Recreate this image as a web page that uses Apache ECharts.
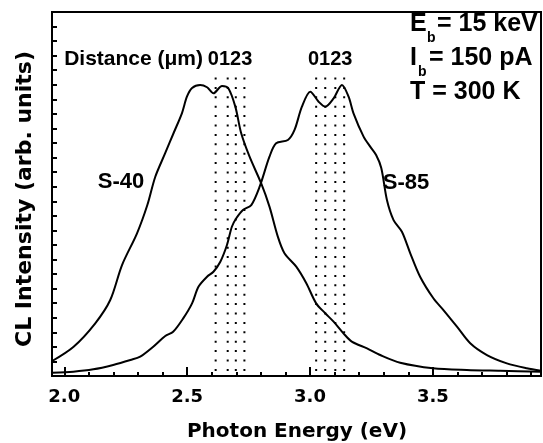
<!DOCTYPE html>
<html>
<head>
<meta charset="utf-8">
<script src="https://cdn.jsdelivr.net/npm/echarts@6/dist/echarts.min.js"></script>
<style>
  html, body { margin: 0; padding: 0; background: #fff; }
  #main { width: 543px; height: 443px; }
</style>
</head>
<body>
<div id="main"></div>
<script>
// CL spectra (x in eV, y in arb. units)
const energyS40 = [1.951, 2.038, 2.126, 2.187, 2.235, 2.296, 2.338, 2.370, 2.411, 2.445, 2.479, 2.499, 2.520, 2.553, 2.581, 2.607, 2.642, 2.667, 2.696, 2.720, 2.754, 2.801, 2.835, 2.869, 2.896, 2.944, 2.985, 3.025, 3.062, 3.096, 3.136, 3.170, 3.232, 3.286, 3.367, 3.501, 3.638, 3.774, 3.940]
const intensityS40 = [1.03, 2.01, 3.62, 5.22, 7.62, 9.80, 11.74, 13.67, 15.32, 16.69, 18.06, 19.18, 19.78, 19.99, 19.83, 19.42, 19.92, 19.78, 18.50, 16.67, 15.06, 13.24, 11.63, 9.57, 8.43, 7.51, 6.37, 4.99, 4.31, 3.73, 2.93, 2.36, 1.90, 1.44, 0.91, 0.53, 0.41, 0.36, 0.30]

const energyS85 = [1.951, 2.037, 2.118, 2.199, 2.269, 2.309, 2.362, 2.411, 2.443, 2.484, 2.520, 2.546, 2.581, 2.607, 2.635, 2.662, 2.682, 2.700, 2.727, 2.761, 2.795, 2.835, 2.862, 2.910, 2.937, 2.967, 3.001, 3.035, 3.062, 3.096, 3.130, 3.157, 3.177, 3.218, 3.245, 3.269, 3.290, 3.313, 3.340, 3.374, 3.408, 3.448, 3.502, 3.543, 3.598, 3.652, 3.720, 3.801, 3.882, 3.940]
const intensityS85 = [0.23, 0.30, 0.46, 0.76, 1.10, 1.33, 2.01, 2.75, 3.04, 3.96, 4.99, 6.13, 6.82, 7.16, 7.85, 9.00, 10.25, 10.83, 11.40, 11.74, 13.00, 15.06, 15.98, 16.21, 16.90, 18.50, 19.53, 18.84, 18.50, 19.07, 19.99, 19.18, 18.04, 16.44, 15.75, 15.18, 14.29, 12.09, 10.71, 9.91, 8.43, 6.82, 5.34, 4.53, 3.39, 2.25, 1.44, 0.87, 0.53, 0.36]

// dotted markers for distance 0,1,2,3 um
const dotsLeft = [2.616, 2.665, 2.698, 2.733]
const dotsRight = [3.025, 3.062, 3.103, 3.139]
const dotTop = 20.5

const xMajor = [2.0, 2.5, 3.0, 3.5]
const xMinor = [2.1, 2.2, 2.3, 2.4, 2.6, 2.7, 2.8, 2.9, 3.1, 3.2, 3.3, 3.4, 3.6, 3.7, 3.8, 3.9]

const FONT = '"Liberation Sans", Arial, sans-serif'
const AXFONT = '"DejaVu Sans", sans-serif'

function zip(xs, ys) {
  return xs.map((x, i) => [x, ys[i]])
}

var myChart = echarts.init(document.getElementById('main'))

const curveStyle = { color: '#000', width: 2 }
let series = [
  { type: 'line', data: zip(energyS40, intensityS40), smooth: 0.3, showSymbol: false, lineStyle: curveStyle, silent: true },
  { type: 'line', data: zip(energyS85, intensityS85), smooth: 0.3, showSymbol: false, lineStyle: curveStyle, silent: true }
]
dotsLeft.concat(dotsRight).forEach(e => {
  series.push({
    type: 'line',
    data: [[e, dotTop], [e, 0]],
    showSymbol: false,
    silent: true,
    lineStyle: { color: '#000', width: 2, type: [2, 7.4] }
  })
})

myChart.setOption({
  animation: false,
  grid: { left: 52, top: 12, right: 2, bottom: 67, show: true, borderColor: '#000', borderWidth: 2 },
  xAxis: [
    {
      type: 'value', min: 1.95, max: 3.94,
      axisLine: { lineStyle: { color: '#000', width: 2 } },
      axisTick: { inside: true, length: 9, customValues: xMajor, lineStyle: { color: '#000', width: 2 } },
      axisLabel: {
        customValues: xMajor, margin: 12, color: '#000',
        fontFamily: AXFONT, fontWeight: 'bold', fontSize: 18,
        formatter: v => v.toFixed(1)
      },
      splitLine: { show: false }
    },
    {
      type: 'value', min: 1.95, max: 3.94, position: 'bottom',
      axisLine: { show: false },
      axisTick: { inside: true, length: 4, customValues: xMinor, lineStyle: { color: '#000', width: 2 } },
      axisLabel: { show: false },
      splitLine: { show: false }
    }
  ],
  yAxis: {
    type: 'value', min: 0, max: 25, interval: 1,
    axisLine: { lineStyle: { color: '#000', width: 2 } },
    axisTick: { inside: true, length: 5, lineStyle: { color: '#000', width: 2 } },
    axisLabel: { show: false },
    splitLine: { show: false }
  },
  series: series
})

// text annotations
function txt(x, y, text, size, style, props) {
  return Object.assign({
    type: 'text', x: x, y: y, silent: true,
    style: Object.assign({
      text: text, fill: '#000', fontFamily: FONT, fontWeight: 'bold', fontSize: size,
      align: 'left', verticalAlign: 'middle'
    }, style || {})
  }, props || {})
}

function groupCenter(arr) {
  let a = myChart.convertToPixel({ xAxisIndex: 0 }, arr[0])
  let b = myChart.convertToPixel({ xAxisIndex: 0 }, arr[arr.length - 1])
  return (a + b) / 2
}
const leftC = groupCenter(dotsLeft)
const rightC = groupCenter(dotsRight)

myChart.setOption({
  graphic: [
    txt(25, 199, 'CL Intensity (arb. units)', 22, { align: 'center', fontFamily: AXFONT }, { rotation: Math.PI / 2 }),
    txt(297, 432, 'Photon Energy (eV)', 20, { align: 'center', fontFamily: AXFONT }),
    txt(121, 182, 'S-40', 22, { align: 'center' }),
    txt(406, 183, 'S-85', 22, { align: 'center' }),
    txt(leftC, 59, '0123', 20, { align: 'center' }),
    txt(rightC, 59, '0123', 20, { align: 'center' }),
    txt(leftC - 27, 59, 'Distance (\u03bcm)', 21, { align: 'right' }),
    txt(410, 24, 'E', 25),
    txt(427, 38, 'b', 14),
    txt(437, 24, '= 15 keV', 25),
    txt(410, 58, 'I', 25),
    txt(418, 72, 'b', 14),
    txt(429, 58, '= 150 pA', 25),
    txt(410, 92, 'T = 300 K', 25)
  ]
})
</script>
</body>
</html>
